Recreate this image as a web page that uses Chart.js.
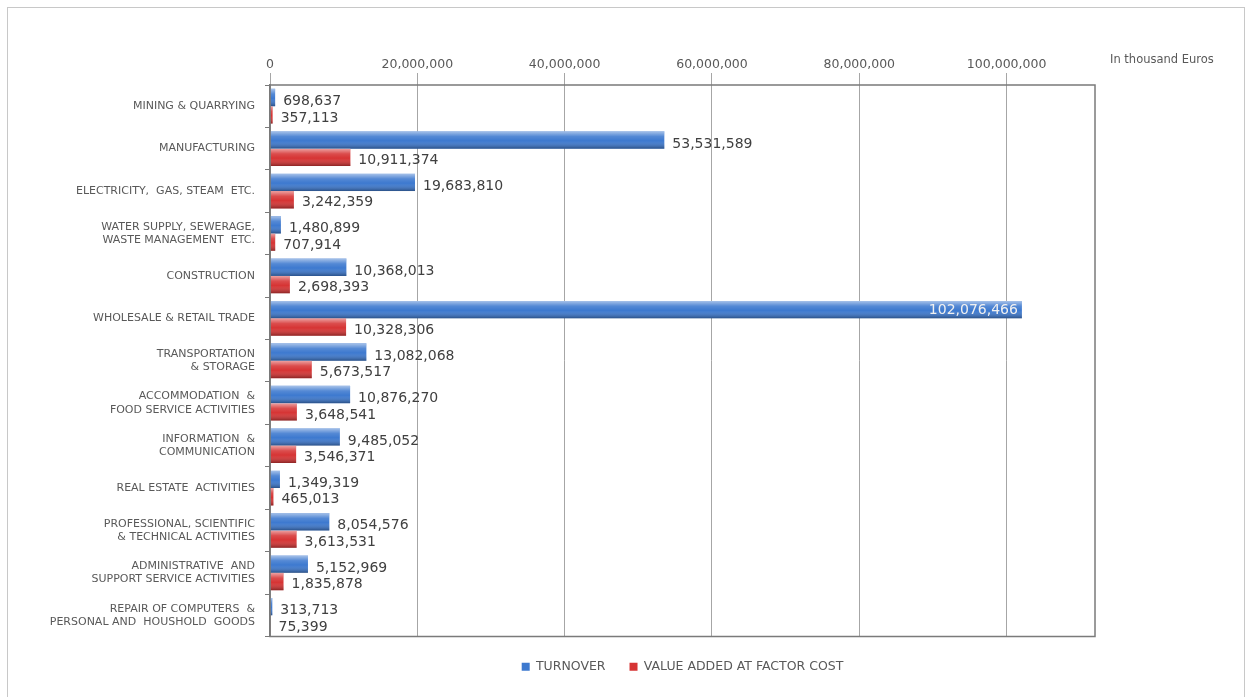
<!DOCTYPE html>
<html lang="en">
<head>
    <meta charset="UTF-8">
    <title>Turnover and value added by sector</title>
    <script src="https://cdn.jsdelivr.net/npm/chart.js"></script>
    <style>
        body { margin: 0; background: #fff; }
        #frame { position: absolute; left: 7px; top: 7px; width: 1236px; height: 700px; border: 1px solid #c8c8c8; }
        #wrap { position: absolute; left: 0; top: 0; width: 1250px; height: 697px; }
    </style>
</head>
<body>
    <div id="frame"></div>
    <div id="wrap">
        <canvas id="myChart"></canvas>
    </div>

    <script>
        const categories = [
            'MINING & QUARRYING',
            'MANUFACTURING',
            'ELECTRICITY,  GAS, STEAM  ETC.',
            ['WATER SUPPLY, SEWERAGE,', 'WASTE MANAGEMENT  ETC.'],
            'CONSTRUCTION',
            'WHOLESALE & RETAIL TRADE',
            ['TRANSPORTATION', '& STORAGE'],
            ['ACCOMMODATION  &', 'FOOD SERVICE ACTIVITIES'],
            ['INFORMATION  &', 'COMMUNICATION'],
            'REAL ESTATE  ACTIVITIES',
            ['PROFESSIONAL, SCIENTIFIC', '& TECHNICAL ACTIVITIES'],
            ['ADMINISTRATIVE  AND', 'SUPPORT SERVICE ACTIVITIES'],
            ['REPAIR OF COMPUTERS  &', 'PERSONAL AND  HOUSHOLD  GOODS']
        ];
        const turnover = [698637, 53531589, 19683810, 1480899, 10368013, 102076466, 13082068,
                          10876270, 9485052, 1349319, 8054576, 5152969, 313713];
        const valueAdded = [357113, 10911374, 3242359, 707914, 2698393, 10328306, 5673517,
                            3648541, 3546371, 465013, 3613531, 1835878, 75399];
        const xTicks = [0, 20000000, 40000000, 60000000, 80000000, 100000000];
        const xMax = 112000000;

        // cylinder shading, value labels, plot frame and unit note
        const barExtras = {
            id: 'barExtras',
            afterDatasetsDraw(chart) {
                const { ctx, chartArea } = chart;
                ctx.save();
                chart.data.datasets.forEach((ds, i) => {
                    chart.getDatasetMeta(i).data.forEach((bar, j) => {
                        const { x, y, base, height } = bar.getProps(['x', 'y', 'base', 'height'], true);
                        const top = y - height / 2;
                        const g = ctx.createLinearGradient(0, top, 0, top + height);
                        g.addColorStop(0, 'rgba(255,255,255,0.55)');
                        g.addColorStop(0.3, 'rgba(255,255,255,0.12)');
                        g.addColorStop(0.55, 'rgba(255,255,255,0)');
                        g.addColorStop(1, 'rgba(0,0,0,0.35)');
                        ctx.fillStyle = g;
                        ctx.fillRect(base, top, x - base, height);

                        const txt = ds.data[j].toLocaleString('en-US');
                        ctx.font = '14px "DejaVu Sans"';
                        ctx.textBaseline = 'middle';
                        const w = ctx.measureText(txt).width;
                        if (x + 8 + w > chartArea.right) {
                            ctx.fillStyle = '#f0f0f0';
                            ctx.textAlign = 'right';
                            ctx.fillText(txt, x - 4, y + 1);
                        } else {
                            ctx.fillStyle = '#404040';
                            ctx.textAlign = 'left';
                            ctx.fillText(txt, x + 8, y + (i === 0 ? 4 : 3));
                        }
                    });
                });
                ctx.strokeStyle = '#7a7a7a';
                ctx.lineWidth = 1.5;
                ctx.strokeRect(chartArea.left, chartArea.top, chartArea.right - chartArea.left, chartArea.bottom - chartArea.top);
                ctx.font = '11.5px "DejaVu Sans"';
                ctx.fillStyle = '#595959';
                ctx.textAlign = 'left';
                ctx.textBaseline = 'middle';
                ctx.fillText('In thousand Euros', chartArea.right + 15, 60);
                ctx.restore();
            }
        };

        document.addEventListener('DOMContentLoaded', function () {
            const ctx = document.getElementById('myChart').getContext('2d');
            new Chart(ctx, {
                type: 'bar',
                data: {
                    labels: categories,
                    datasets: [{
                        label: 'TURNOVER',
                        data: turnover,
                        backgroundColor: '#3d79cf',
                        categoryPercentage: 0.82,
                        barPercentage: 1.0
                    }, {
                        label: 'VALUE ADDED AT FACTOR COST',
                        data: valueAdded,
                        backgroundColor: '#d63434',
                        categoryPercentage: 0.82,
                        barPercentage: 1.0
                    }]
                },
                options: {
                    indexAxis: 'y',
                    responsive: true,
                    maintainAspectRatio: false,
                    animation: false,
                    layout: { padding: { left: 0, right: 155, top: 55, bottom: 14 } },
                    plugins: {
                        tooltip: { enabled: false },
                        legend: {
                            position: 'bottom',
                            fullSize: false,
                            labels: {
                                boxWidth: 8,
                                boxHeight: 8,
                                padding: 24,
                                color: '#595959',
                                font: { family: 'DejaVu Sans', size: 12.5 }
                            }
                        }
                    },
                    scales: {
                        x: {
                            position: 'top',
                            min: 0,
                            max: xMax,
                            afterBuildTicks: scale => { scale.ticks = xTicks.map(v => ({ value: v })); },
                            afterFit: scale => { scale.height = 30; },
                            grid: { color: '#a6a6a6', tickLength: 12, lineWidth: 1 },
                            border: { display: false },
                            ticks: {
                                padding: 1,
                                color: '#595959',
                                font: { family: 'DejaVu Sans', size: 12.5 },
                                callback: v => v.toLocaleString('en-US')
                            }
                        },
                        y: {
                            afterFit: scale => { scale.width = 270; },
                            grid: { drawOnChartArea: false, tickLength: 5, color: '#7a7a7a' },
                            border: { color: '#7a7a7a', width: 1.5 },
                            ticks: {
                                padding: 10,
                                color: '#595959',
                                font: { family: 'DejaVu Sans', size: 11 }
                            }
                        }
                    }
                },
                plugins: [barExtras]
            });
        });
    </script>
</body>
</html>
